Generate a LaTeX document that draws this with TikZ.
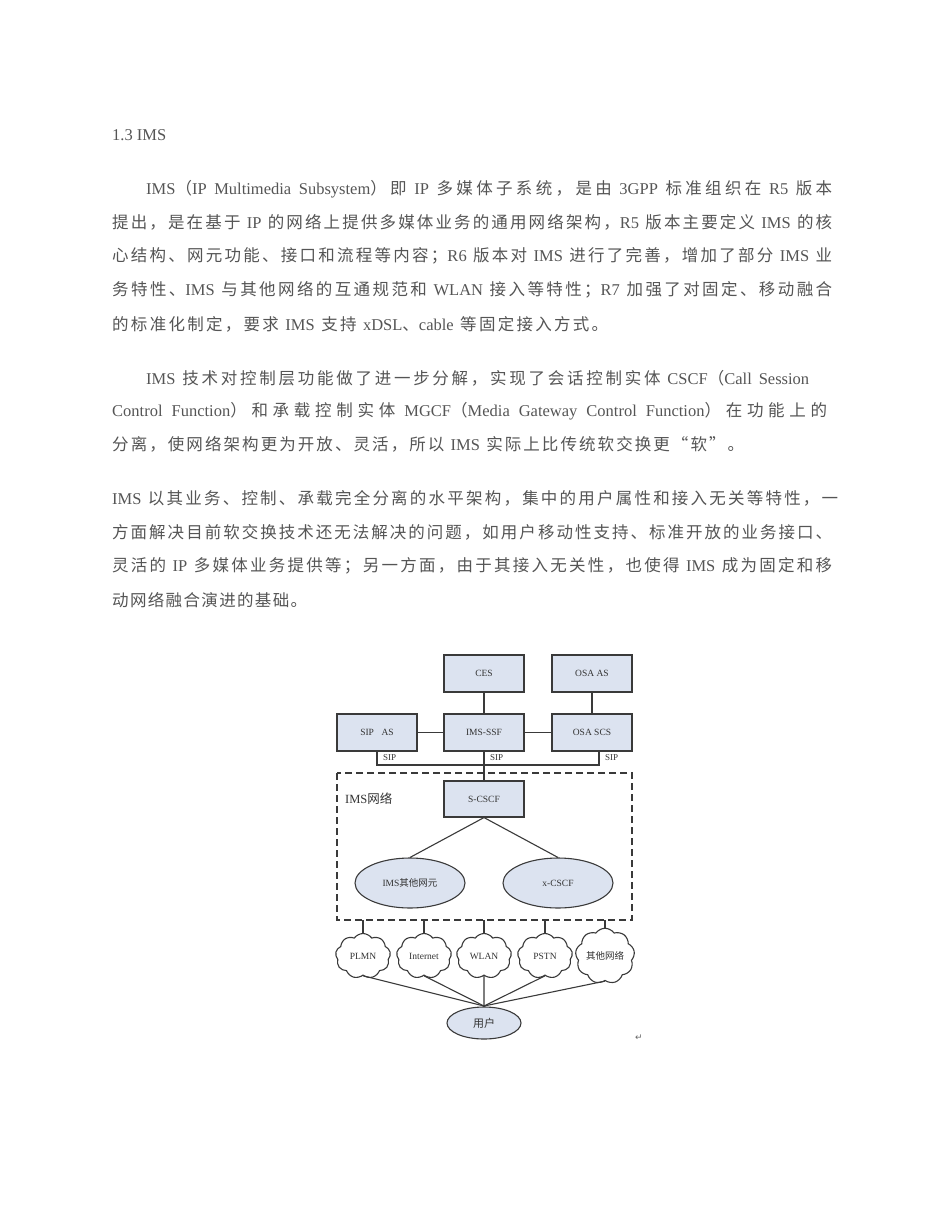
\documentclass[tikz,border=0pt]{standalone}
\usepackage{fontspec}
\usetikzlibrary{shapes.geometric,shapes.symbols}
\setmainfont{Liberation Serif}
\newfontfamily\cjk{Noto Sans CJK SC}
\newfontfamily\djv{DejaVu Sans}
\XeTeXinterchartokenstate=1
\newXeTeXintercharclass\cjkclass
\newcount\cjkcnt
\cjkcnt="4E00
\loop\XeTeXcharclass\cjkcnt=\cjkclass\advance\cjkcnt 1\ifnum\cjkcnt<"A000\repeat
\XeTeXcharclass"FF08=\cjkclass \XeTeXcharclass"FF09=\cjkclass
\XeTeXcharclass"FF0C=\cjkclass \XeTeXcharclass"FF1B=\cjkclass
\XeTeXcharclass"3001=\cjkclass \XeTeXcharclass"3002=\cjkclass
\XeTeXcharclass"201C=\cjkclass \XeTeXcharclass"201D=\cjkclass
\XeTeXinterchartoks 0 \cjkclass={\begingroup\cjk}
\XeTeXinterchartoks 4095 \cjkclass={\begingroup\cjk}
\XeTeXinterchartoks \cjkclass 0={\endgroup}
\XeTeXinterchartoks \cjkclass 4095={\endgroup}
\XeTeXinterchartoks \cjkclass \cjkclass={\hskip 0pt plus 2pt\relax}
\newcommand\jline[2]{\makebox[#1][s]{#2}}
\definecolor{bodytxt}{HTML}{555555}
\definecolor{boxfill}{HTML}{DCE3F0}
\definecolor{ln}{HTML}{3A3A3A}
\tikzset{
  txt/.style={anchor=west,inner sep=0pt,text=bodytxt,font=\fontsize{16.5}{18}\selectfont},
  bx/.style={draw=ln,fill=boxfill,line width=1.1pt,minimum width=80pt,minimum height=37pt,inner sep=0pt,font=\fontsize{9.5}{11}\selectfont,text=black!80},
  el/.style={ellipse,draw=ln,fill=boxfill,line width=1.1pt,minimum width=110pt,minimum height=50pt,inner sep=0pt,font=\fontsize{9.5}{11}\selectfont,text=black!80},
  cl/.style={cloud,cloud puffs=9,cloud puff arc=110,aspect=1.1,draw=ln,fill=white,line width=1.1pt,minimum width=55pt,minimum height=45pt,inner sep=0pt,font=\fontsize{9.5}{11}\selectfont,text=black!80},
  wire/.style={draw=ln,line width=1.1pt},
  sip/.style={anchor=west,inner sep=0pt,font=\fontsize{9}{10}\selectfont,text=black!80}
}
\begin{document}
\begin{tikzpicture}[x=1pt,y=-1pt]
\useasboundingbox[fill=white] (0,0) rectangle (950,1230);
\node[txt] (h) at (112,135) {1.3 IMS};
\node[txt] (p1) at (146,189) {\jline{686pt}{IMS（IP Multimedia Subsystem）即 IP 多媒体子系统，是由 3GPP 标准组织在 R5 版本}};
\node[txt] (p2) at (112,222) {\jline{720pt}{提出，是在基于 IP 的网络上提供多媒体业务的通用网络架构，R5 版本主要定义 IMS 的核}};
\node[txt] (p3) at (112,256) {\jline{720pt}{心结构、网元功能、接口和流程等内容；R6 版本对 IMS 进行了完善，增加了部分 IMS 业}};
\node[txt] (p4) at (112,290) {\jline{720pt}{务特性、IMS 与其他网络的互通规范和 WLAN 接入等特性；R7 加强了对固定、移动融合}};
\node[txt] (p5) at (112,324) {\jline{496pt}{的标准化制定，要求 IMS 支持 xDSL、cable 等固定接入方式。}};
\node[txt] (q1) at (146,378) {\jline{663pt}{IMS 技术对控制层功能做了进一步分解，实现了会话控制实体 CSCF（Call Session}};
\node[txt] (q2) at (112,411) {\jline{715pt}{Control Function）和承载控制实体 MGCF（Media Gateway Control Function）在功能上的}};
\node[txt] (q3) at (112,444) {\jline{632pt}{分离，使网络架构更为开放、灵活，所以 IMS 实际上比传统软交换更“软”。}};
\node[txt] (r1) at (112,498) {\jline{726pt}{IMS 以其业务、控制、承载完全分离的水平架构，集中的用户属性和接入无关等特性，一}};
\node[txt] (r2) at (112,532) {\jline{720pt}{方面解决目前软交换技术还无法解决的问题，如用户移动性支持、标准开放的业务接口、}};
\node[txt] (r3) at (112,566) {\jline{720pt}{灵活的 IP 多媒体业务提供等；另一方面，由于其接入无关性，也使得 IMS 成为固定和移}};
\node[txt] (r4) at (112,600) {\jline{195pt}{动网络融合演进的基础。}};
% diagram
\node[bx] (ces) at (484,673.5) {CES};
\node[bx] (osaas) at (592,673.5) {OSA AS};
\node[bx] (sipas) at (377,732.5) {SIP\hspace{0.8em}AS};
\node[bx] (ssf) at (484,732.5) {IMS-SSF};
\node[bx] (scs) at (592,732.5) {OSA SCS};
\draw[wire] (ces) -- (ssf);
\draw[wire] (osaas) -- (scs);
\draw[wire] (sipas) -- (ssf);
\draw[wire] (ssf) -- (scs);
\coordinate (busl) at (377,765);
\coordinate (busm) at (484,765);
\coordinate (busr) at (599,765);
\draw[wire] (sipas.south) -- (busl) -- (busr) -- (599,751);
\node[sip] (s1) at (383,758) {SIP};
\node[sip] (s2) at (490,758) {SIP};
\node[sip] (s3) at (605,758) {SIP};
\draw[draw=ln,line width=1.4pt,dash pattern=on 7pt off 4pt] (337,773) rectangle (632,920);
\node[bx,minimum height=36pt] (scscf) at (484,799) {S-CSCF};
\draw[wire] (ssf.south) -- (scscf.north);
\node[anchor=west,inner sep=0pt,font=\fontsize{12.5}{13}\selectfont,text=black!80] (imsn) at (345,799) {IMS网络};
\node[el] (other) at (410,883) {IMS其他网元};
\node[el] (xcscf) at (558,883) {x-CSCF};
\draw[wire] (scscf.south) -- (other.north);
\draw[wire] (scscf.south) -- (xcscf.north);
\node[ellipse,draw=ln,fill=boxfill,line width=1.1pt,minimum width=74pt,minimum height=32pt,inner sep=0pt,font=\fontsize{11}{12}\selectfont,text=black!80] (user) at (484,1023) {用户};
\coordinate (uj) at (484,1006);
\foreach \n/\x/\t in {c1/363/PLMN,c2/424/Internet,c3/484/WLAN,c4/545/PSTN,c5/605/其他网络}{
  \node[cl] (\n) at (\x,956) {\t};
  \coordinate (\n t) at (\x,920);
  \draw[wire] (\n t) -- (\n.north);
  \draw[wire] (\n.south) -- (uj);
}
\draw[wire] (uj) -- (user.north);
\node[inner sep=0pt,text=black!60,font=\djv\fontsize{9}{10}\selectfont] (ret) at (639,1038) {↵};
\end{tikzpicture}
\end{document}
